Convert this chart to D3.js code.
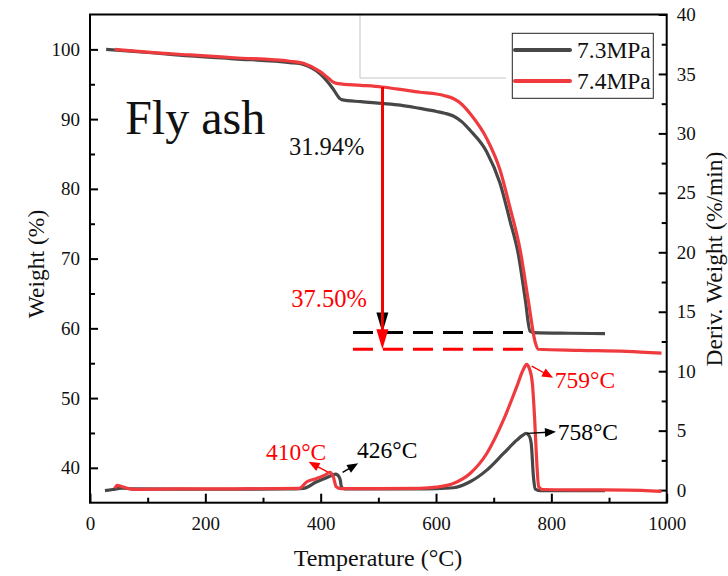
<!DOCTYPE html>
<html>
<head>
<meta charset="utf-8">
<script src="https://cdn.jsdelivr.net/npm/d3@7"></script>
<style>
  body { margin: 0; background: #fff; }
  svg text { font-family: "Liberation Serif", "Times New Roman", serif; }
</style>
</head>
<body>
<div id="chart"></div>
<script>
// TG curves (weight %, left axis)
var tempTG73 = [28, 100, 173, 250, 347, 370, 399, 421, 433, 436, 470, 506, 538, 572, 601, 615, 630, 645, 659, 688, 711, 728, 743, 755, 763, 770, 830, 893];
var weightTG73 = [100, 99.55, 99.05, 98.65, 98.1, 97.85, 96.5, 94.4, 92.97, 92.8, 92.5, 92.25, 92.0, 91.53, 91.1, 90.85, 90.45, 89.6, 88.4, 85.3, 80.8, 75.5, 70.5, 64.0, 59.6, 59.4, 59.3, 59.25];
var tempTG74 = [43, 100, 173, 250, 347, 370, 399, 413, 421, 430, 470, 506, 538, 572, 601, 615, 630, 645, 659, 688, 711, 728, 746, 760, 772, 777, 850, 930, 991];
var weightTG74 = [100, 99.6, 99.2, 98.8, 98.3, 98.0, 96.8, 95.9, 95.35, 95.1, 94.85, 94.6, 94.26, 93.85, 93.6, 93.35, 92.95, 92.1, 90.8, 87.2, 82.7, 77.4, 71.2, 64.0, 58.0, 57.0, 56.85, 56.7, 56.45];

// DTG curves (%/min, right axis)
var tempDTG73 = [26, 40, 55, 75, 150, 250, 340, 370, 393, 407, 420, 426, 432, 434, 436, 442, 500, 560, 600, 630, 659, 688, 717, 740, 750, 756, 761, 765, 769, 772, 780, 850, 893];
var derivDTG73 = [-0.05, 0.05, 0.17, 0.1, 0.08, 0.07, 0.1, 0.15, 0.7, 0.98, 1.25, 1.35, 1.1, 0.84, 0.25, 0.1, 0.1, 0.1, 0.12, 0.2, 0.7, 1.68, 3.08, 4.2, 4.6, 4.77, 4.6, 3.95, 1.1, 0.1, -0.05, -0.05, -0.05];
var tempDTG74 = [43, 47, 55, 75, 150, 250, 363, 376, 393, 407, 416, 422, 427, 435, 500, 572, 600, 630, 659, 688, 717, 740, 751, 757, 762, 767, 771, 774, 778, 785, 850, 930, 991];
var derivDTG74 = [0.15, 0.4, 0.3, 0.06, 0.1, 0.1, 0.15, 0.7, 0.98, 1.26, 1.49, 1.1, 0.28, 0.12, 0.12, 0.15, 0.25, 0.56, 1.4, 3.08, 5.9, 8.7, 10.1, 10.57, 10.2, 9.0, 6.0, 3.0, 0.3, 0.05, 0.02, 0.0, -0.1];

var seriesNames = ['7.3MPa', '7.4MPa'];
var seriesColors = ['#474747', '#ef3a3e'];

// ticks
var xTicks = [0, 200, 400, 600, 800, 1000];
var xMinor = [100, 300, 500, 700, 900];
var yLTicks = [40, 50, 60, 70, 80, 90, 100];
var yLMinor = [45, 55, 65, 75, 85, 95];
var yRTicks = [0, 5, 10, 15, 20, 25, 30, 35, 40];
var yRMinor = [2.5, 7.5, 12.5, 17.5, 22.5, 27.5, 32.5, 37.5];

// annotations (data units)
var residueLevels = [59.4, 57.0];      // dashed lines, weight %
var residueSpan = [456, 763];          // temperature range of dashed lines
var lossArrowT = 507;                  // temperature of vertical arrows
var lossArrowTop = 94.6;
var peakArrows = [
    // from [T, D] to [T, D]
    {from: [412, 1.54], to: [379, 2.38], color: '#ff0000'},
    {from: [438, 1.49], to: [465, 2.25], color: '#000'},
    {from: [766, 10.43], to: [803, 9.44], color: '#ff0000'},
    {from: [758, 4.77], to: [808, 4.9], color: '#000'}
];
var peakLabels = [
    {t: 305, d: 2.52, text: '410°C', color: '#ff0000'},
    {t: 463, d: 2.67, text: '426°C', color: '#000'},
    {t: 806, d: 8.55, text: '759°C', color: '#ff0000'},
    {t: 811, d: 4.2, text: '758°C', color: '#000'}
];

var width = 728, height = 576;
var svg = d3.select('#chart').append('svg')
    .attr('width', width)
    .attr('height', height);

var x = d3.scaleLinear().domain([0, 1000]).range([90, 666.7]);
var yL = d3.scaleLinear().domain([35, 105]).range([502.7, 14.5]);
var yR = d3.scaleLinear().domain([-1.06, 40]).range([502.7, 14.5]);

// light grey box behind legend
svg.append('path')
    .attr('d', 'M360,' + yL(105) + 'V78H506')
    .attr('fill', 'none')
    .attr('stroke', '#c4c4c4')
    .attr('stroke-width', 1);

function styleAxis(g) {
    g.select('.domain').remove();
    g.selectAll('line').attr('stroke', '#000').attr('stroke-width', 2);
    g.selectAll('text').attr('font-size', 19).attr('fill', '#111')
        .style('font-family', '"Liberation Serif", "Times New Roman", serif');
}

// bottom axis
svg.append('g').attr('transform', 'translate(0,502.7)')
    .call(d3.axisBottom(x).tickValues(xTicks).tickSize(-9).tickPadding(14).tickFormat(d3.format('d')))
    .call(styleAxis);
svg.append('g').attr('transform', 'translate(0,502.7)')
    .call(d3.axisBottom(x).tickValues(xMinor).tickSize(-5).tickFormat(''))
    .call(styleAxis);

// left axis
svg.append('g').attr('transform', 'translate(90,0)')
    .call(d3.axisLeft(yL).tickValues(yLTicks).tickSize(-8).tickPadding(10))
    .call(styleAxis);
svg.append('g').attr('transform', 'translate(90,0)')
    .call(d3.axisLeft(yL).tickValues(yLMinor).tickSize(-5).tickFormat(''))
    .call(styleAxis);

// right axis
svg.append('g').attr('transform', 'translate(666.7,0)')
    .call(d3.axisRight(yR).tickValues(yRTicks).tickSize(-8).tickPadding(10))
    .call(styleAxis);
svg.append('g').attr('transform', 'translate(666.7,0)')
    .call(d3.axisRight(yR).tickValues(yRMinor).tickSize(-5).tickFormat(''))
    .call(styleAxis);

// frame
svg.append('rect')
    .attr('x', 90).attr('y', 14.5)
    .attr('width', 666.7 - 90).attr('height', 502.7 - 14.5)
    .attr('fill', 'none').attr('stroke', '#000').attr('stroke-width', 2);

// axis titles
svg.append('text').attr('x', 378).attr('y', 566)
    .attr('text-anchor', 'middle').attr('font-size', 24).attr('fill', '#111')
    .text('Temperature (°C)');
svg.append('text').attr('transform', 'translate(44,264) rotate(-90)')
    .attr('text-anchor', 'middle').attr('font-size', 23.5).attr('fill', '#111')
    .text('Weight (%)');
svg.append('text').attr('transform', 'translate(722,259) rotate(-90)')
    .attr('text-anchor', 'middle').attr('font-size', 23.5).attr('fill', '#111')
    .text('Deriv. Weight (%/min)');

// curves
function zip(a, b) { return a.map(function(v, i) { return [v, b[i]]; }); }
var lineL = d3.line().x(function(d) { return x(d[0]); }).y(function(d) { return yL(d[1]); }).curve(d3.curveMonotoneX);
var lineR = d3.line().x(function(d) { return x(d[0]); }).y(function(d) { return yR(d[1]); }).curve(d3.curveMonotoneX);

var curves = [
    {data: zip(tempDTG73, derivDTG73), line: lineR, color: seriesColors[0]},
    {data: zip(tempTG73, weightTG73), line: lineL, color: seriesColors[0]},
    {data: zip(tempDTG74, derivDTG74), line: lineR, color: seriesColors[1]},
    {data: zip(tempTG74, weightTG74), line: lineL, color: seriesColors[1]}
];
svg.selectAll('path.curve').data(curves).enter()
    .append('path').attr('class', 'curve')
    .attr('d', function(d) { return d.line(d.data); })
    .attr('fill', 'none')
    .attr('stroke', function(d) { return d.color; })
    .attr('stroke-width', 3.2)
    .attr('stroke-linejoin', 'round');

// residue dashed lines
svg.selectAll('line.residue').data(residueLevels).enter()
    .append('line').attr('class', 'residue')
    .attr('x1', x(residueSpan[0])).attr('x2', x(residueSpan[1]))
    .attr('y1', function(d) { return yL(d); }).attr('y2', function(d) { return yL(d); })
    .attr('stroke', function(d, i) { return i === 0 ? '#000' : '#ff0000'; })
    .attr('stroke-width', 3)
    .attr('stroke-dasharray', '20,10');

function arrowHead(x1, y1, x2, y2, len, half) {
    var a = Math.atan2(y2 - y1, x2 - x1);
    var bx = x2 - len * Math.cos(a), by = y2 - len * Math.sin(a);
    var px = -Math.sin(a) * half, py = Math.cos(a) * half;
    return 'M' + x2 + ',' + y2 + 'L' + (bx + px) + ',' + (by + py) +
        'L' + (bx - px) + ',' + (by - py) + 'Z';
}

// vertical mass-loss arrows (black first, red on top)
var ax = x(lossArrowT);
[[residueLevels[0], '#000'], [residueLevels[1], '#ff0000']].forEach(function(a) {
    var y1 = yL(lossArrowTop), y2 = yL(a[0]);
    svg.append('line').attr('x1', ax).attr('x2', ax)
        .attr('y1', y1).attr('y2', y2 - 15)
        .attr('stroke', a[1]).attr('stroke-width', 2.8);
    svg.append('path').attr('d', arrowHead(ax, y1, ax, y2, 20, 6)).attr('fill', a[1]);
});

// peak arrows
peakArrows.forEach(function(p) {
    var x1 = x(p.from[0]), y1 = yR(p.from[1]), x2 = x(p.to[0]), y2 = yR(p.to[1]);
    var a = Math.atan2(y2 - y1, x2 - x1);
    svg.append('line').attr('x1', x1).attr('y1', y1)
        .attr('x2', x2 - 8 * Math.cos(a)).attr('y2', y2 - 8 * Math.sin(a))
        .attr('stroke', p.color).attr('stroke-width', 1.4);
    svg.append('path').attr('d', arrowHead(x1, y1, x2, y2, 11, 4.5)).attr('fill', p.color);
});

// text labels
svg.selectAll('text.peak').data(peakLabels).enter()
    .append('text').attr('class', 'peak')
    .attr('x', function(d) { return x(d.t); })
    .attr('y', function(d) { return yR(d.d); })
    .attr('font-size', 23.5)
    .attr('fill', function(d) { return d.color; })
    .text(function(d) { return d.text; });

svg.append('text').attr('x', x(345)).attr('y', yL(84.8))
    .attr('font-size', 24.5).attr('fill', '#111').text('31.94%');
svg.append('text').attr('x', x(349)).attr('y', yL(63.1))
    .attr('font-size', 24.5).attr('fill', '#ff0000').text('37.50%');
svg.append('text').attr('x', x(61)).attr('y', yL(87.8))
    .attr('font-size', 48).attr('fill', '#111').text('Fly ash');

// legend
var lg = svg.append('g');
lg.append('rect').attr('x', 512.3).attr('y', 33.3).attr('width', 141).attr('height', 65)
    .attr('fill', '#fff').attr('stroke', '#222').attr('stroke-width', 1);
seriesNames.forEach(function(name, i) {
    var yy = 50 + i * 31;
    lg.append('line').attr('x1', 515).attr('x2', 570).attr('y1', yy).attr('y2', yy)
        .attr('stroke', seriesColors[i]).attr('stroke-width', 4).attr('stroke-linecap', 'round');
    lg.append('text').attr('x', 577).attr('y', yy + 8)
        .attr('font-size', 23.5).attr('fill', '#111').text(name);
});
</script>
</body>
</html>
